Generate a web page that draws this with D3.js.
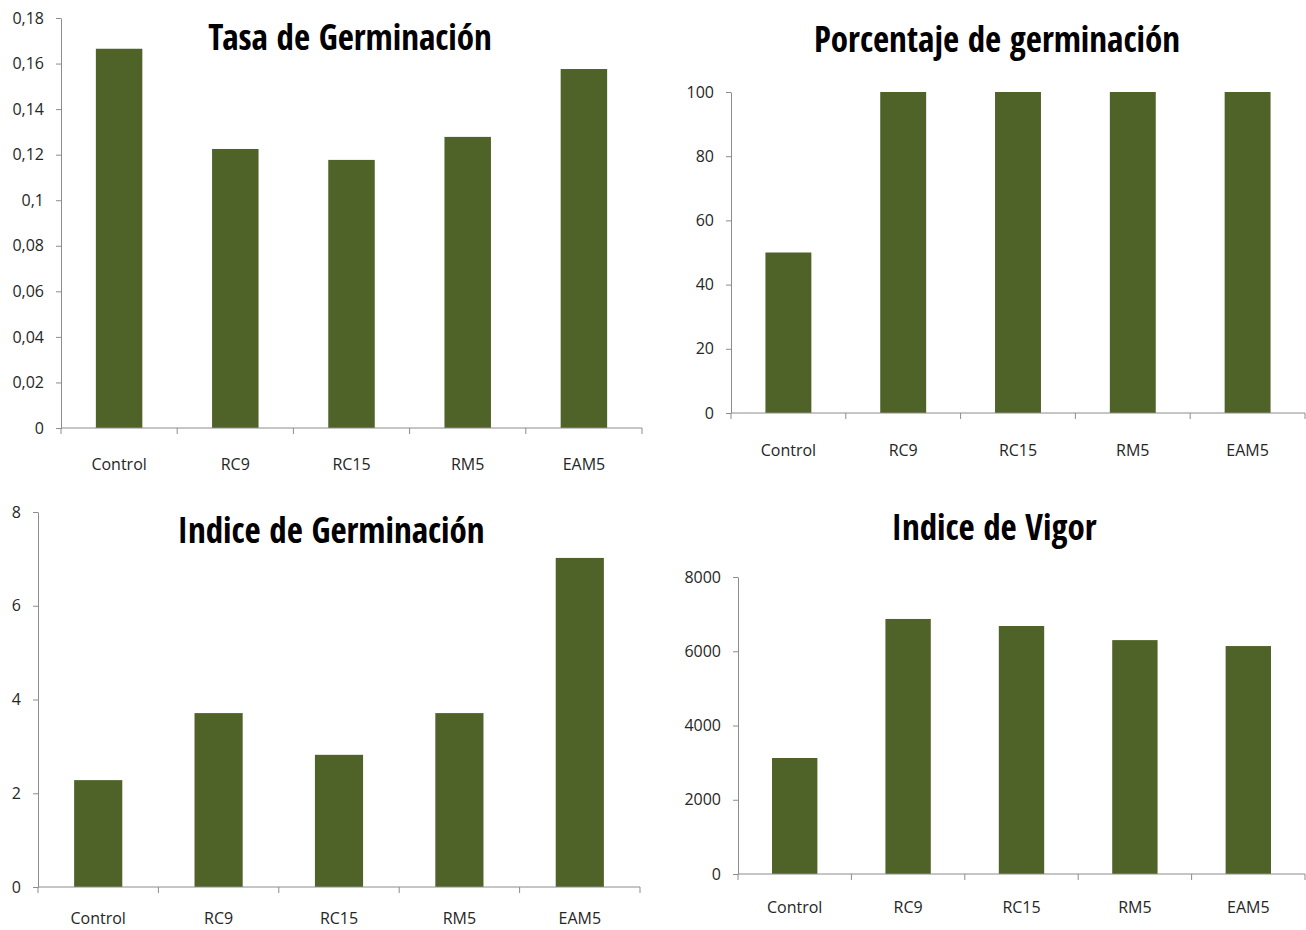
<!DOCTYPE html>
<html>
<head>
<meta charset="utf-8">
<script src="https://cdn.jsdelivr.net/npm/d3@7"></script>
<style>
  body { margin: 0; background: #fff; }
  svg { display: block; }
</style>
</head>
<body>
<svg class="chart"></svg>
<script>
// Data
const categories = ['Control', 'RC9', 'RC15', 'RM5', 'EAM5'];

const tasaValues = [0.1665, 0.1225, 0.1177, 0.1278, 0.1576];
const tasaTicks = [0, 0.02, 0.04, 0.06, 0.08, 0.1, 0.12, 0.14, 0.16, 0.18];

const porcentajeValues = [50, 100, 100, 100, 100];
const porcentajeTicks = [0, 20, 40, 60, 80, 100];

const indiceGermValues = [2.28, 3.71, 2.82, 3.71, 7.02];
const indiceGermTicks = [0, 2, 4, 6, 8];

const vigorValues = [3125, 6870, 6680, 6300, 6140];
const vigorTicks = [0, 2000, 4000, 6000, 8000];

const barColor = '#4f6228';
const axisColor = '#8c8c8c';
const labelFont = '"Open Sans", sans-serif';
const titleFont = '"Open Sans Condensed", "Liberation Sans Narrow", "Open Sans", sans-serif';

const svg = d3.select('.chart')
  .attr('width', 1306)
  .attr('height', 930);

// comma decimal labels like Excel (es)
const fmtComma = d => String(+d.toFixed(4)).replace('.', ',');

// layout of each panel (axis box in page pixels)
const panels = [
  { title: 'Tasa de Germinación', values: tasaValues, ticks: tasaTicks, max: 0.18,
    x0: 61, x1: 642, yTop: 18, yBot: 428, titleX: 350, titleY: 50, labelY: 470 },
  { title: 'Porcentaje de germinación', values: porcentajeValues, ticks: porcentajeTicks, max: 100,
    x0: 731, x1: 1305, yTop: 92, yBot: 413, titleX: 997, titleY: 52, labelY: 456 },
  { title: 'Indice de Germinación', values: indiceGermValues, ticks: indiceGermTicks, max: 8,
    x0: 38, x1: 640, yTop: 512, yBot: 887, titleX: 331, titleY: 543, labelY: 924 },
  { title: 'Indice de Vigor', values: vigorValues, ticks: vigorTicks, max: 8000,
    x0: 738, x1: 1305, yTop: 577, yBot: 874, titleX: 994, titleY: 540, labelY: 913 }
];

panels.forEach(function (p) {
  const g = svg.append('g');

  const xScale = d3.scaleBand()
    .domain(categories)
    .range([p.x0, p.x1])
    .paddingInner(0.6)
    .paddingOuter(0.3);

  const yScale = d3.scaleLinear()
    .domain([0, p.max])
    .range([p.yBot, p.yTop]);

  // bars
  g.selectAll('rect')
    .data(p.values)
    .enter()
    .append('rect')
    .attr('x', (d, i) => xScale(categories[i]))
    .attr('y', d => yScale(d))
    .attr('width', xScale.bandwidth())
    .attr('height', d => yScale(0) - yScale(d))
    .attr('fill', barColor);

  // y axis
  const yAxis = g.append('g')
    .attr('transform', 'translate(' + p.x0 + ',0)')
    .call(d3.axisLeft(yScale).tickValues(p.ticks).tickSize(5).tickSizeOuter(0).tickFormat(fmtComma));
  yAxis.attr('font-family', null).attr('font-size', null);
  yAxis.select('.domain').attr('stroke', axisColor);
  yAxis.selectAll('line').attr('stroke', axisColor);
  yAxis.selectAll('text')
    .attr('x', -17)
    .style('font-family', labelFont)
    .style('font-weight', 'normal')
    .attr('font-size', '16px')
    .attr('fill', '#262626');

  // x axis: ticks on band boundaries
  const bounds = d3.range(categories.length + 1).map(i => p.x0 + i * xScale.step());
  const xAxis = g.append('g');
  xAxis.append('line')
    .attr('x1', p.x0).attr('x2', p.x1)
    .attr('y1', p.yBot).attr('y2', p.yBot)
    .attr('stroke', axisColor);
  xAxis.selectAll('.xtick')
    .data(bounds)
    .enter()
    .append('line')
    .attr('class', 'xtick')
    .attr('x1', d => d).attr('x2', d => d)
    .attr('y1', p.yBot).attr('y2', p.yBot + 6)
    .attr('stroke', axisColor);
  xAxis.selectAll('.xlabel')
    .data(categories)
    .enter()
    .append('text')
    .attr('class', 'xlabel')
    .attr('x', d => xScale(d) + xScale.bandwidth() / 2)
    .attr('y', p.labelY)
    .attr('text-anchor', 'middle')
    .style('font-family', labelFont)
    .style('font-weight', 'normal')
    .attr('font-size', '16px')
    .attr('fill', '#262626')
    .text(d => d);

  // title
  g.append('text')
    .attr('x', p.titleX)
    .attr('y', p.titleY)
    .attr('text-anchor', 'middle')
    .style('font-family', titleFont)
    .style('font-weight', 'bold')
    .attr('font-size', '35px')
    .attr('fill', '#000')
    .text(p.title);
});
</script>
</body>
</html>
